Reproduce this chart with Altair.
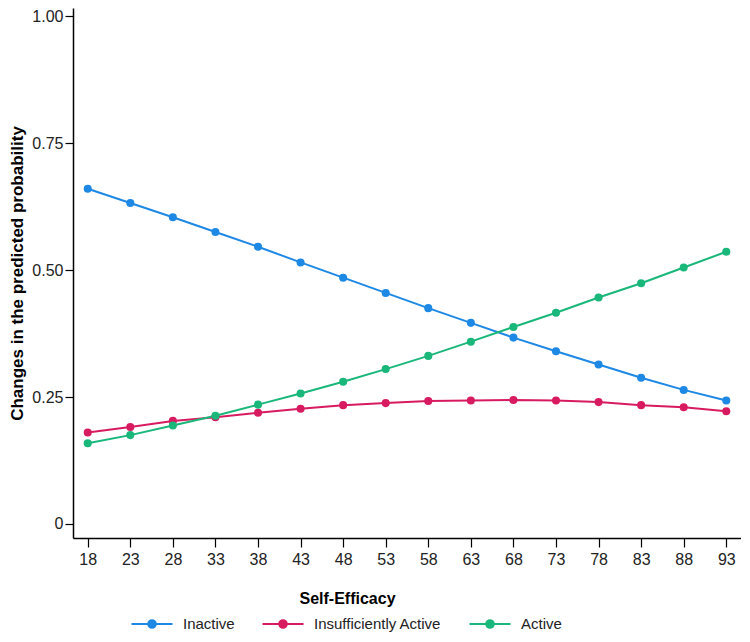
import altair as alt
import pandas as pd

# Data
self_efficacy = [18, 23, 28, 33, 38, 43, 48, 53, 58, 63, 68, 73, 78, 83, 88, 93]
inactive = [0.660, 0.632, 0.604, 0.575, 0.546, 0.515, 0.485, 0.455, 0.425, 0.396,
            0.367, 0.340, 0.314, 0.288, 0.264, 0.243]
insufficiently_active = [0.180, 0.191, 0.203, 0.210, 0.219, 0.227, 0.234, 0.238, 0.242, 0.243,
                         0.244, 0.243, 0.240, 0.234, 0.230, 0.222]
active = [0.159, 0.175, 0.194, 0.213, 0.235, 0.257, 0.280, 0.305, 0.331, 0.359,
          0.388, 0.416, 0.446, 0.474, 0.505, 0.536]

series_names = ["Inactive", "Insufficiently Active", "Active"]
series_colors = ["#1E88E5", "#D81B60", "#19B77A"]
y_ticks = [0, 0.25, 0.5, 0.75, 1.0]

rows = []
for name, vals in zip(series_names, [inactive, insufficiently_active, active]):
    for xv, yv in zip(self_efficacy, vals):
        rows.append({"Self-Efficacy": xv, "Probability": yv, "Group": name})
df = pd.DataFrame(rows)

FONT = "Liberation Sans, Arial, Helvetica, sans-serif"


def ring(r):
    return f"M{r},0A{r},{r},0,1,1,-{r},0A{r},{r},0,1,1,{r},0Z"


# legend symbol: a line with a dot in the middle (dot drawn as concentric stroked rings)
LEGEND_PATH = "M-2.05,0H2.05" + "".join(ring(r) for r in (0.08, 0.18, 0.28, 0.38))

chart = alt.Chart(df).mark_line(
    strokeWidth=2,
    point=alt.OverlayMarkDef(filled=True, size=65, opacity=1),
).encode(
    x=alt.X(
        "Self-Efficacy:Q",
        scale=alt.Scale(domain=[16.27, 94.73], nice=False, zero=False),
        axis=alt.Axis(
            values=self_efficacy,
            title="Self-Efficacy",
            titleX=274,
            titleY=52,
            tickSize=9,
            labelPadding=4,
        ),
    ),
    y=alt.Y(
        "Probability:Q",
        scale=alt.Scale(domain=[-0.0276, 1.016], nice=False, zero=False),
        axis=alt.Axis(
            values=y_ticks,
            title="Changes in the predicted probability",
            labelExpr="datum.value == 0 ? '0' : format(datum.value, '.2f')",
            tickSize=8,
            labelPadding=2,
            titlePadding=5,
        ),
    ),
    color=alt.Color(
        "Group:N",
        scale=alt.Scale(domain=series_names, range=series_colors),
        sort=series_names,
        legend=alt.Legend(
            orient="none",
            legendX=68,
            legendY=605,
            direction="horizontal",
            title=None,
            symbolType=LEGEND_PATH,
            symbolSize=400,
            symbolStrokeWidth=2,
            symbolOpacity=1,
            labelFontSize=15,
            labelFont=FONT,
            labelColor="#222222",
            labelOffset=20,
            columnPadding=23,
        ),
    ),
).properties(
    width=668,
    height=530,
    padding=0,
).configure_view(
    stroke=None
).configure_axis(
    grid=False,
    domainColor="#000000",
    domainWidth=1.5,
    tickColor="#000000",
    tickWidth=1.2,
    labelFont=FONT,
    labelFontSize=16,
    labelColor="#222222",
    titleFont=FONT,
    titleFontSize=16,
    titleFontWeight="bold",
    titleColor="#000000",
).configure_axisY(
    titleFontSize=17,
)

chart.save("out.html", embed_options={"renderer": "svg", "actions": False})
